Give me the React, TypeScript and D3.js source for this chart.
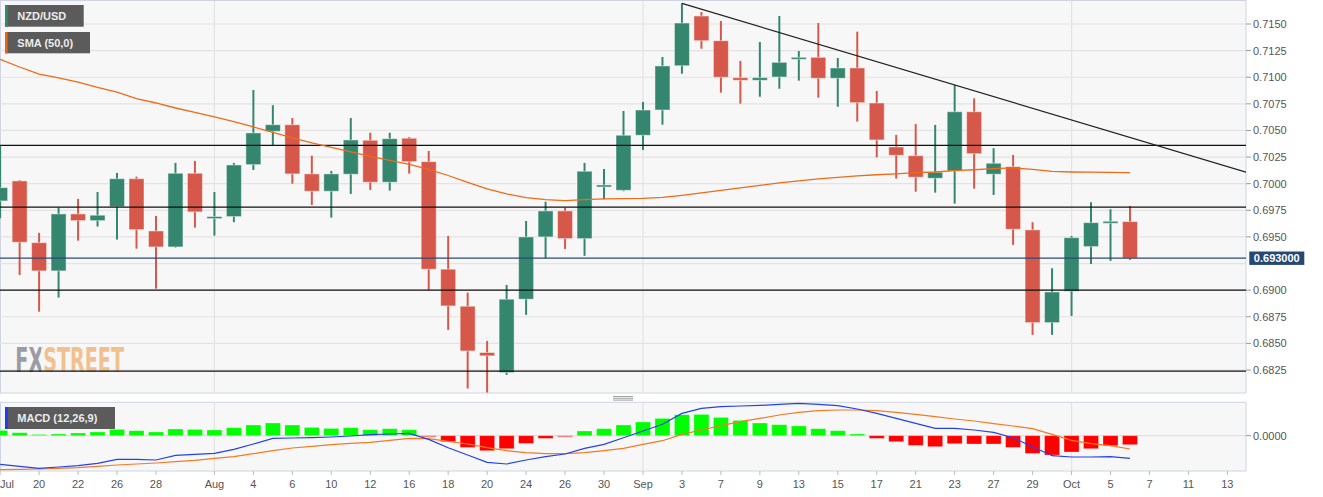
import React from 'react';
import * as d3 from 'd3';

// ---------- DATA ----------
const axisDays = [
  '2021-07-16','2021-07-19','2021-07-20','2021-07-21','2021-07-22','2021-07-23','2021-07-26','2021-07-27','2021-07-28','2021-07-29','2021-07-30',
  '2021-08-02','2021-08-03','2021-08-04','2021-08-05','2021-08-06','2021-08-09','2021-08-10','2021-08-11','2021-08-12','2021-08-13',
  '2021-08-16','2021-08-17','2021-08-18','2021-08-19','2021-08-20','2021-08-23','2021-08-24','2021-08-25','2021-08-26','2021-08-27','2021-08-30','2021-08-31',
  '2021-09-01','2021-09-02','2021-09-03','2021-09-06','2021-09-07','2021-09-08','2021-09-09','2021-09-10','2021-09-13','2021-09-14','2021-09-15','2021-09-16','2021-09-17',
  '2021-09-20','2021-09-21','2021-09-22','2021-09-23','2021-09-24','2021-09-27','2021-09-28','2021-09-29','2021-09-30',
  '2021-10-01','2021-10-04','2021-10-05','2021-10-06','2021-10-07','2021-10-08','2021-10-11','2021-10-12','2021-10-13'
];
const candleDates = axisDays.slice(0, 59);

const open = [0.69838,0.70026,0.69446,0.69181,0.69716,0.69653,0.69784,0.70047,0.69556,0.69406,0.70098,0.69676,0.69691,0.70179,0.70492,0.70554,0.70092,0.69929,0.70089,0.70408,0.70014,0.70427,0.70207,0.69197,0.68849,0.68414,0.68226,0.68915,0.69500,0.69744,0.69484,0.69972,0.69938,0.70455,0.70692,0.71108,0.71575,0.71343,0.70996,0.70971,0.71002,0.71174,0.71187,0.70990,0.71087,0.70758,0.70345,0.70263,0.70051,0.70120,0.70676,0.70089,0.70160,0.69566,0.68695,0.68990,0.69409,0.69634,0.69644];
const high = [0.70364,0.70035,0.69538,0.69775,0.69857,0.69922,0.70101,0.70066,0.69697,0.70195,0.70214,0.69922,0.70195,0.70880,0.70737,0.70617,0.70263,0.70120,0.70617,0.70479,0.70479,0.70439,0.70307,0.69509,0.68977,0.68523,0.69049,0.69650,0.69831,0.69775,0.70195,0.70138,0.70683,0.70768,0.71190,0.71694,0.71613,0.71528,0.71153,0.71331,0.71575,0.71246,0.71509,0.71181,0.71428,0.70871,0.70458,0.70561,0.70552,0.70927,0.70802,0.70333,0.70270,0.69638,0.69206,0.69509,0.69826,0.69760,0.69791];
const low = [0.69676,0.69143,0.68798,0.68930,0.69465,0.69597,0.69475,0.69390,0.69014,0.69400,0.69587,0.69512,0.69638,0.70129,0.70357,0.70000,0.69800,0.69681,0.69904,0.69941,0.69935,0.70094,0.69002,0.68627,0.68076,0.68038,0.68204,0.68768,0.69300,0.69387,0.69322,0.69854,0.69930,0.70317,0.70554,0.71033,0.71268,0.70855,0.70752,0.70817,0.70892,0.70968,0.70808,0.70723,0.70583,0.70248,0.70047,0.69925,0.69916,0.69813,0.69953,0.69894,0.69425,0.68580,0.68580,0.68758,0.69246,0.69275,0.69284];
const close = [0.69963,0.69450,0.69181,0.69716,0.69653,0.69704,0.70047,0.69568,0.69406,0.70098,0.69735,0.69691,0.70176,0.70477,0.70554,0.70092,0.69929,0.70092,0.70411,0.70014,0.70423,0.70207,0.69197,0.68852,0.68429,0.68383,0.68915,0.69500,0.69744,0.69484,0.70117,0.69988,0.70455,0.70692,0.71106,0.71509,0.71343,0.71000,0.70971,0.70996,0.71140,0.71187,0.70990,0.71087,0.70761,0.70411,0.70267,0.70061,0.70107,0.70676,0.70282,0.70192,0.69572,0.68695,0.68983,0.69493,0.69634,0.69647,0.69300];

const sma50 = [0.71169,0.71096,0.71030,0.70993,0.70955,0.70904,0.70861,0.70800,0.70758,0.70711,0.70669,0.70627,0.70584,0.70533,0.70481,0.70430,0.70383,0.70342,0.70298,0.70256,0.70218,0.70181,0.70134,0.70077,0.70012,0.69951,0.69904,0.69869,0.69850,0.69841,0.69850,0.69857,0.69860,0.69862,0.69871,0.69890,0.69913,0.69937,0.69960,0.69984,0.70007,0.70026,0.70045,0.70059,0.70073,0.70084,0.70093,0.70104,0.70110,0.70122,0.70131,0.70142,0.70148,0.70134,0.70115,0.70110,0.70108,0.70106,0.70104];

const macdLine = [-0.00287,-0.00307,-0.00327,-0.00313,-0.00300,-0.00277,-0.00237,-0.00237,-0.00243,-0.00197,-0.00187,-0.00177,-0.00137,-0.00083,-0.00027,-0.00023,-0.00020,-0.00013,-0.00003,0.00010,0.00017,0.00023,-0.00037,-0.00120,-0.00193,-0.00267,-0.00283,-0.00243,-0.00210,-0.00183,-0.00127,-0.00087,-0.00020,0.00047,0.00115,0.00223,0.00273,0.00290,0.00297,0.00303,0.00313,0.00323,0.00313,0.00300,0.00267,0.00223,0.00173,0.00123,0.00073,0.00073,0.00057,0.00033,-0.00020,-0.00110,-0.00200,-0.00213,-0.00213,-0.00210,-0.00227];
const signalLine = [-0.00340,-0.00337,-0.00333,-0.00327,-0.00320,-0.00307,-0.00293,-0.00283,-0.00273,-0.00260,-0.00247,-0.00227,-0.00210,-0.00180,-0.00150,-0.00123,-0.00107,-0.00090,-0.00077,-0.00067,-0.00047,-0.00027,-0.00030,-0.00057,-0.00083,-0.00120,-0.00150,-0.00170,-0.00180,-0.00180,-0.00170,-0.00150,-0.00127,-0.00087,-0.00050,0.00013,0.00057,0.00100,0.00140,0.00173,0.00207,0.00233,0.00250,0.00257,0.00257,0.00250,0.00233,0.00213,0.00190,0.00167,0.00147,0.00120,0.00097,0.00070,0.00013,-0.00047,-0.00080,-0.00100,-0.00133];
const histogram = [0.00053,0.00030,0.00005,0.00017,0.00027,0.00037,0.00063,0.00050,0.00037,0.00067,0.00063,0.00057,0.00080,0.00107,0.00127,0.00107,0.00083,0.00073,0.00080,0.00060,0.00070,0.00060,-0.00007,-0.00060,-0.00117,-0.00150,-0.00130,-0.00077,-0.00027,-0.00007,0.00047,0.00070,0.00107,0.00137,0.00173,0.00210,0.00213,0.00183,0.00153,0.00127,0.00110,0.00097,0.00070,0.00050,0.00017,-0.00027,-0.00060,-0.00097,-0.00110,-0.00080,-0.00083,-0.00083,-0.00117,-0.00177,-0.00193,-0.00163,-0.00130,-0.00100,-0.00090];

const priceTicks = [0.6825,0.6850,0.6875,0.6900,0.6925,0.6950,0.6975,0.7000,0.7025,0.7050,0.7075,0.7100,0.7125,0.7150];
const levels = [0.7036, 0.6978, 0.6900, 0.6824];
const lastPrice = 0.6930;
const trendPoints = [{ date: '2021-09-03', value: 0.71694 }, { date: '2021-09-23', value: 0.70927 }];
const monthStarts = ['2021-08-02', '2021-09-01', '2021-10-01'];
const xTickDates = ['2021-07-16','2021-07-20','2021-07-22','2021-07-26','2021-07-28','2021-08-02','2021-08-04','2021-08-06','2021-08-10','2021-08-12','2021-08-16','2021-08-18','2021-08-20','2021-08-24','2021-08-26','2021-08-30','2021-09-01','2021-09-03','2021-09-07','2021-09-09','2021-09-13','2021-09-15','2021-09-17','2021-09-21','2021-09-23','2021-09-27','2021-09-29','2021-10-01','2021-10-05','2021-10-07','2021-10-11','2021-10-13'];
const xTickLabels = ['Jul','20','22','26','28','Aug','4','6','10','12','16','18','20','24','26','30','Sep','3','7','9','13','15','17','21','23','27','29','Oct','5','7','11','13'];

// ---------- LAYOUT ----------
const W = 1323, H = 497;
const PR = 1246; // plot right
const MAIN_TOP = 1, MAIN_BOTTOM = 393;
const MACD_TOP = 402.3, MACD_BOTTOM = 471;
const UP = '#35866f', DOWN = '#d5584a';
const FONT = 'Arial, "Liberation Sans", sans-serif';
const WM_FONT = '"DejaVu Sans Condensed", "DejaVu Sans", sans-serif';

export default function App() {
  const x = d3.scalePoint<string>().domain(axisDays).range([0.14, 0.14 + 63 * 19.48]);
  const y = d3.scaleLinear().domain([0.6825, 0.7150]).range([370, 24]);
  const ym = d3.scaleLinear().domain([-0.00353, 0.00334]).range([MACD_BOTTOM, MACD_TOP]);
  const bodyW = 15;

  const smaPath = d3.line<number>().x((_, i) => x(candleDates[i])!).y(d => y(d))(sma50)!;
  const macdPath = d3.line<number>().x((_, i) => x(candleDates[i])!).y(d => ym(d))(macdLine)!;
  const sigPath = d3.line<number>().x((_, i) => x(candleDates[i])!).y(d => ym(d))(signalLine)!;

  const t0x = x(trendPoints[0].date)!, t1x = x(trendPoints[1].date)!;
  const t0y = y(trendPoints[0].value), t1y = y(trendPoints[1].value);
  const slope = (t1y - t0y) / (t1x - t0x);
  const tEndY = t0y + slope * (PR - t0x);

  return (
    <div style={{ position: 'absolute', left: 0, top: 0, width: W, height: H, background: '#fff' }}>
      <svg width={W} height={H} style={{ display: 'block', fontFamily: FONT }}>
        <defs>
          <clipPath id="mainClip"><rect x={0} y={MAIN_TOP} width={PR} height={MAIN_BOTTOM - MAIN_TOP} /></clipPath>
          <clipPath id="macdClip"><rect x={0} y={MACD_TOP} width={PR} height={MACD_BOTTOM - MACD_TOP} /></clipPath>
          <linearGradient id="wmGrad" gradientUnits="userSpaceOnUse" x1={15.3} x2={124} y1={0} y2={0}>
            <stop offset="0.235" stopColor="#9b9ba6" />
            <stop offset="0.235" stopColor="#f1c08e" />
          </linearGradient>
        </defs>

        {/* main panel */}
        <rect x={0.5} y={MAIN_TOP - 0.5} width={PR - 0.5} height={MAIN_BOTTOM - MAIN_TOP + 0.5} fill="#f7f7f7" stroke="#cfd4e4" />
        <g clipPath="url(#mainClip)">
          {priceTicks.map(t => (
            <line key={t} x1={0} x2={PR} y1={y(t)} y2={y(t)} stroke="#e3e3e3" strokeWidth={1.2} />
          ))}
          {monthStarts.map(d => (
            <line key={d} x1={x(d)} x2={x(d)} y1={MAIN_TOP} y2={MAIN_BOTTOM} stroke="#e3e3e3" strokeWidth={1.2} />
          ))}
          {/* watermark */}
          <text x={15.3} y={371.5} fontFamily={WM_FONT} fontWeight="bold" fontSize={34} textLength={108.7} lengthAdjust="spacingAndGlyphs" fill="url(#wmGrad)">FXSTREET</text>

          {/* candles */}
          {candleDates.map((d, i) => {
            const cx = x(d)!;
            const up = close[i] >= open[i];
            const col = up ? UP : DOWN;
            const top = y(Math.max(open[i], close[i]));
            const bot = y(Math.min(open[i], close[i]));
            const h = Math.max(bot - top, 2);
            return (
              <g key={d}>
                <line x1={cx} x2={cx} y1={y(high[i])} y2={y(low[i])} stroke={col} strokeWidth={2} />
                <rect x={cx - bodyW / 2} y={top} width={bodyW} height={h} fill={col} stroke="#ffffff" strokeOpacity={0.45} strokeWidth={1} />
              </g>
            );
          })}

          {/* horizontal levels */}
          {levels.map(l => (
            <line key={l} x1={0} x2={PR} y1={y(l)} y2={y(l)} stroke="#111" strokeWidth={1.3} />
          ))}
          <line x1={0} x2={PR} y1={y(lastPrice)} y2={y(lastPrice)} stroke="#2b4a78" strokeWidth={1.2} />
          {/* SMA */}
          <path d={smaPath} fill="none" stroke="#ee6b17" strokeWidth={1.3} />
          {/* trend line */}
          <line x1={t0x} y1={t0y} x2={PR} y2={tEndY} stroke="#222" strokeWidth={1.2} />
        </g>

        {/* price axis */}
        {priceTicks.map(t => t === 0.6925 ? null : (
          <g key={t}>
            <line x1={PR} x2={PR + 5} y1={y(t)} y2={y(t)} stroke="#999" />
            <text x={PR + 7} y={y(t) + 4} fontSize={11} fill="#555">{t.toFixed(4)}</text>
          </g>
        ))}
        <rect x={1249.3} y={y(lastPrice) - 6.7} width={55} height={13.4} fill="#254874" />
        <text x={1276.8} y={y(lastPrice) + 4} fontSize={11} fontWeight="bold" fill="#fff" textAnchor="middle">{lastPrice.toFixed(6)}</text>

        {/* legends */}
        <rect x={5} y={5} width={78.7} height={21.7} fill="#5b5b5b" />
        <rect x={5} y={5} width={2.7} height={21.7} fill="#2f8a6e" />
        <text x={17.3} y={20.3} fontSize={11} fontWeight="bold" fill="#ececec">NZD/USD</text>
        <rect x={5} y={32} width={85} height={21.3} fill="#5b5b5b" />
        <rect x={5} y={32} width={2.7} height={21.3} fill="#e8630c" />
        <text x={17.3} y={46.8} fontSize={11} fontWeight="bold" fill="#ececec">SMA (50,0)</text>

        {/* panel divider handle */}
        {[396.5, 398.3, 400.1].map(v => (
          <line key={v} x1={613} x2={633} y1={v} y2={v} stroke="#888" strokeWidth={0.8} />
        ))}

        {/* MACD panel */}
        <rect x={0.5} y={MACD_TOP} width={PR - 0.5} height={MACD_BOTTOM - MACD_TOP} fill="#f7f7f7" stroke="#cfd4e4" />
        <g clipPath="url(#macdClip)">
          <line x1={0} x2={PR} y1={ym(0)} y2={ym(0)} stroke="#e0e0e0" strokeWidth={1.2} />
          {monthStarts.map(d => (
            <line key={d} x1={x(d)} x2={x(d)} y1={MACD_TOP} y2={MACD_BOTTOM} stroke="#e3e3e3" strokeWidth={1.2} />
          ))}
          {candleDates.map((d, i) => {
            const v = histogram[i];
            const cx = x(d)!;
            const y0 = ym(0), y1 = ym(v);
            const small = Math.abs(y1 - y0) < 1.2;
            const hgt = Math.max(Math.abs(y1 - y0), 1.5);
            return (
              <rect key={d} x={cx - bodyW / 2} y={v >= 0 ? y0 - hgt : y0} width={bodyW} height={hgt}
                fill={v >= 0 ? '#00ff00' : '#ff0000'} opacity={small ? 0.45 : 1} stroke="#fff" strokeOpacity={0.35} strokeWidth={small ? 0 : 0.8} />
            );
          })}
          <path d={sigPath} fill="none" stroke="#f57a22" strokeWidth={1.2} />
          <path d={macdPath} fill="none" stroke="#2342ee" strokeWidth={1.2} />
        </g>
        <rect x={5} y={407} width={110} height={22} fill="#5b5b5b" />
        <rect x={5} y={407} width={2.7} height={22} fill="#1a3cf5" />
        <text x={17.3} y={422} fontSize={11} fontWeight="bold" fill="#ececec">MACD (12,26,9)</text>
        <line x1={PR} x2={PR + 5} y1={ym(0)} y2={ym(0)} stroke="#999" />
        <text x={PR + 7} y={ym(0) + 4} fontSize={11} fill="#555">{(0).toFixed(4)}</text>

        {/* x axis */}
        {xTickDates.map((d, i) => {
          const tx = x(d)!;
          const first = i === 0;
          return (
            <g key={d}>
              <line x1={tx} x2={tx} y1={MACD_BOTTOM} y2={MACD_BOTTOM + 4} stroke="#bbb" />
              <text x={first ? 0 : tx} y={488} fontSize={11} fill="#555" textAnchor={first ? 'start' : 'middle'}>{xTickLabels[i]}</text>
            </g>
          );
        })}
      </svg>
    </div>
  );
}
